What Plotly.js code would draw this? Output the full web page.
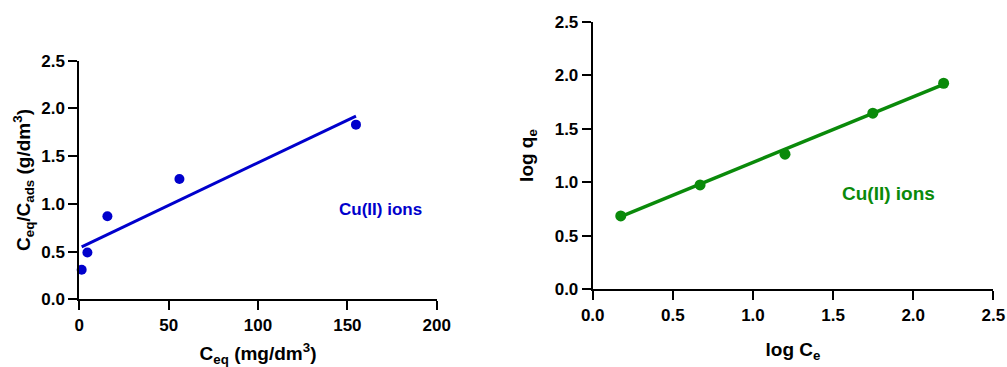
<!DOCTYPE html>
<html>
<head>
<meta charset="utf-8">
<script src="https://cdn.plot.ly/plotly-3.0.1.min.js"></script>
<style>html,body{margin:0;padding:0;background:#fff}#chart{width:1007px;height:367px}</style>
</head>
<body>
<div id="chart"></div>
<script>
// Left panel: Langmuir-type linear plot
const ceq = [1.3, 4.5, 15.7, 56, 154.8];
const ceqOverCads = [0.31, 0.49, 0.87, 1.26, 1.83];
const langmuirFitX = [1.3, 154.8];
const langmuirFitY = [0.55, 1.92];

// Right panel: Freundlich plot
const logCe = [0.175, 0.67, 1.2, 1.748, 2.19];
const logQe = [0.685, 0.975, 1.262, 1.645, 1.925];
const freundlichFitX = [0.175, 2.19];
const freundlichFitY = [0.68, 1.915];

const seriesLabel = "Cu(II) ions";
const leftTicks = [0, 50, 100, 150, 200];
const leftTickLabels = ["0", "50", "100", "150", "200"];
const yTicks = [0, 0.5, 1.0, 1.5, 2.0, 2.5];
const yTickLabels = ["0.0", "0.5", "1.0", "1.5", "2.0", "2.5"];
const rightXTicks = [0, 0.5, 1.0, 1.5, 2.0, 2.5];
const rightXTickLabels = ["0.0", "0.5", "1.0", "1.5", "2.0", "2.5"];

const BLUE = "#0000CC";
const GREEN = "#0A8A0A";
const FONT = "Liberation Sans, Arial, sans-serif";

const bold = arr => arr.map(s => "<b>" + s + "</b>");

const traces = [
  {x: langmuirFitX, y: langmuirFitY, mode: "lines", line: {color: BLUE, width: 3}, xaxis: "x", yaxis: "y", cliponaxis: false, hoverinfo: "skip"},
  {x: ceq, y: ceqOverCads, mode: "markers", marker: {color: BLUE, size: 10}, xaxis: "x", yaxis: "y", cliponaxis: false},
  {x: freundlichFitX, y: freundlichFitY, mode: "lines", line: {color: GREEN, width: 3.5}, xaxis: "x2", yaxis: "y2", cliponaxis: false, hoverinfo: "skip"},
  {x: logCe, y: logQe, mode: "markers", marker: {color: GREEN, size: 11}, xaxis: "x2", yaxis: "y2", cliponaxis: false}
];

function axisBase(extra) {
  return Object.assign({
    showgrid: false, zeroline: false, showline: true, linecolor: "#000", linewidth: 2,
    ticks: "outside", ticklen: 9, tickwidth: 2, tickcolor: "#000",
    tickfont: {family: FONT, size: 17, color: "#000"},
    fixedrange: true
  }, extra);
}

const titleFont = {family: FONT, size: 19, color: "#000"};

const layout = {
  width: 1007, height: 367,
  margin: {l: 0, r: 0, t: 0, b: 0},
  paper_bgcolor: "#fff", plot_bgcolor: "#fff",
  showlegend: false,
  font: {family: FONT},
  xaxis: axisBase({domain: [0.0788, 0.4337], range: [0, 200], tickvals: leftTicks, ticktext: bold(leftTickLabels), anchor: "y",
    title: {text: "<b>C<sub>eq</sub> (mg/dm<sup>3</sup>)</b>", font: titleFont, standoff: 16}}),
  yaxis: axisBase({domain: [0.1845, 0.8346], range: [0, 2.5], tickvals: yTicks, ticktext: bold(yTickLabels), anchor: "x",
    title: {text: "<b>C<sub>eq</sub>/C<sub>ads</sub> (g/dm<sup>3</sup>)</b>", font: titleFont, standoff: 6}}),
  xaxis2: axisBase({domain: [0.5886, 0.9864], range: [0, 2.5], tickvals: rightXTicks, ticktext: bold(rightXTickLabels), anchor: "y2",
    title: {text: "<b>log C<sub>e</sub></b>", font: titleFont, standoff: 19}}),
  yaxis2: axisBase({domain: [0.2117, 0.9409], range: [0, 2.5], tickvals: yTicks, ticktext: bold(yTickLabels), anchor: "x2",
    title: {text: "<b>log q<sub>e</sub></b>", font: titleFont, standoff: 16}}),
  annotations: [
    {text: "<b>" + seriesLabel + "</b>", x: 168.3, y: 0.94, xref: "x", yref: "y", showarrow: false,
     font: {family: FONT, size: 17, color: BLUE}},
    {text: "<b>" + seriesLabel + "</b>", x: 1.843, y: 0.897, xref: "x2", yref: "y2", showarrow: false,
     font: {family: FONT, size: 19, color: GREEN}}
  ]
};

Plotly.newPlot("chart", traces, layout, {displayModeBar: false, staticPlot: true});
</script>
</body>
</html>
